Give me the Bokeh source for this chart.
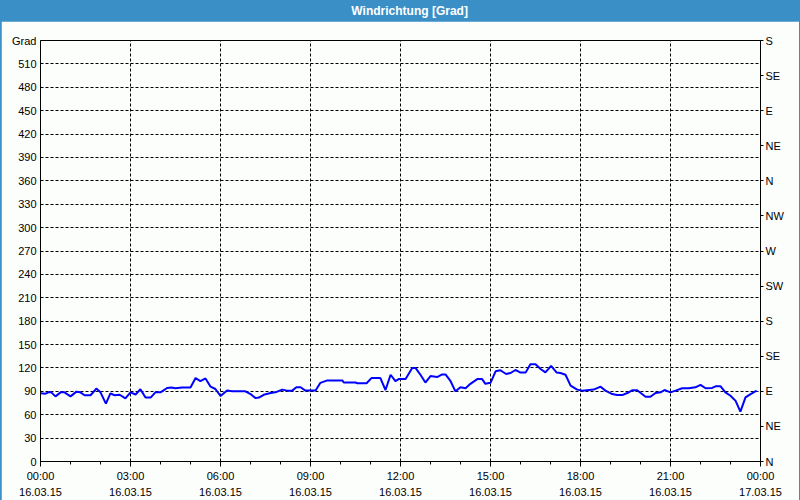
from bokeh.plotting import figure
from bokeh.layouts import column
from bokeh.models import FixedTicker, LinearAxis, Range1d
from bokeh.core.properties import value
from bokeh.embed import file_html
from bokeh.resources import INLINE

# ---- data ----
title_text = "Windrichtung [Grad]"
hours = [0.0, 0.17, 0.28, 0.36, 0.5, 0.67, 0.8, 1.0, 1.2, 1.33,
         1.47, 1.67, 1.86, 2.0, 2.18, 2.33, 2.47, 2.64, 2.83, 3.0,
         3.17, 3.33, 3.5, 3.67, 3.83, 4.0, 4.22, 4.36, 4.5, 4.72,
         5.0, 5.17, 5.33, 5.5, 5.67, 5.83, 6.0, 6.22, 6.39, 6.83,
         7.0, 7.17, 7.28, 7.44, 7.67, 7.83, 8.06, 8.22, 8.39, 8.53,
         8.67, 8.83, 9.17, 9.33, 9.56, 10.06, 10.11, 10.5, 10.56, 10.87,
         11.03, 11.33, 11.5, 11.67, 11.83, 11.94, 12.17, 12.39, 12.5, 12.67,
         12.83, 13.0, 13.22, 13.39, 13.5, 13.67, 13.83, 14.0, 14.17, 14.33,
         14.56, 14.72, 14.83, 15.0, 15.17, 15.33, 15.52, 15.67, 15.83, 16.0,
         16.17, 16.33, 16.5, 16.67, 16.83, 17.02, 17.2, 17.33, 17.5, 17.67,
         17.89, 18.06, 18.44, 18.67, 18.83, 19.06, 19.22, 19.39, 19.56, 19.72,
         19.89, 20.17, 20.33, 20.5, 20.67, 20.8, 21.0, 21.17, 21.39, 21.61,
         21.83, 22.0, 22.17, 22.39, 22.5, 22.67, 22.83, 23.0, 23.17, 23.33,
         23.5, 23.67, 23.87]
direction = [87.4, 87, 89, 88.7, 83.5, 88.7, 88.7, 83.5, 89.6, 88.7,
             85, 85, 93.5, 88.7, 74.3, 87.4, 85, 85.6, 81, 88.7,
             86, 92.6, 82, 82, 88.7, 88.7, 94.3, 95, 94, 95,
             95, 107, 103, 106.5, 96, 93, 84, 91, 90, 90,
             86.5, 81.3, 82, 85.6, 87.8, 88.7, 92.2, 90.9, 90.9, 95.2,
             95.2, 91, 91, 100.9, 104, 104, 101.3, 101.3, 100.4, 100.4,
             107, 107, 91.7, 111.3, 103, 105.7, 105.7, 120, 120, 110.9,
             101.3, 109.6, 108.3, 111.7, 111.7, 103, 90, 95.2, 94, 99.6,
             105.7, 105.7, 99.6, 100.9, 115.7, 117, 112.2, 113.5, 117.4, 114,
             114, 124.8, 124.8, 118.7, 114.3, 122.6, 114.3, 113.5, 111.3, 97.4,
             92.2, 90.9, 92.2, 96, 90.9, 86.5, 85.2, 85.2, 87.8, 91.3,
             91.3, 83, 83, 87.8, 88.7, 91.7, 88.7, 90.9, 93.9, 93.9,
             95.2, 98.3, 93.9, 94.3, 96.5, 96.5, 88.7, 84.3, 77.8, 63.9,
             82.2, 86.5, 90.9]

x_ticks = [0, 3, 6, 9, 12, 15, 18, 21, 24]
x_tick_labels = ["00:00\n16.03.15", "03:00\n16.03.15", "06:00\n16.03.15",
                 "09:00\n16.03.15", "12:00\n16.03.15", "15:00\n16.03.15",
                 "18:00\n16.03.15", "21:00\n16.03.15", "00:00\n17.03.15"]
x_minor = [1, 2, 4, 5, 7, 8, 10, 11, 13, 14, 16, 17, 19, 20, 22, 23]
y_ticks = list(range(0, 541, 30))
y_unit_label = "Grad"
compass_ticks = list(range(0, 541, 45))
compass_labels = ["N", "NE", "E", "SE", "S", "SW", "W", "NW", "N", "NE", "E", "SE", "S"]

BLUE_BAR = "#3b8fc7"
FONT = "Liberation Sans"

# ---- header bar ----
header = figure(width=800, height=21, x_range=(0, 800), y_range=(0, 1),
                output_backend="svg", toolbar_location=None,
                x_axis_type=None, y_axis_type=None,
                min_border=0, outline_line_color=None,
                background_fill_color=BLUE_BAR, border_fill_color=BLUE_BAR)
header.xgrid.visible = False
header.ygrid.visible = False
header.text(x=[409], y=[0.5], text=[title_text], text_color="white",
            text_font=value(FONT),
            text_font_style="bold", text_font_size="12px",
            text_align="center", text_baseline="middle")

# ---- main chart ----
p = figure(width=798, height=479, output_backend="svg", toolbar_location=None,
           x_range=Range1d(0, 24), y_range=Range1d(0, 540),
           min_border_left=39, min_border_right=39, min_border_top=19,
           min_border_bottom=39,
           background_fill_color="#fcfefc", border_fill_color="#fcfefc",
           outline_line_color="black", outline_line_width=1)

p.line(hours, direction, line_color="#0000ff", line_width=2)

xa = p.xaxis[0]
xa.ticker = FixedTicker(ticks=x_ticks, minor_ticks=x_minor)
xa.major_label_overrides = {t: l for t, l in zip(x_ticks, x_tick_labels)}
xa.axis_line_color = "black"
xa.major_tick_in = 0
xa.major_tick_out = 5
xa.minor_tick_in = 0
xa.minor_tick_out = 3
xa.major_tick_line_color = "black"
xa.minor_tick_line_color = "black"
xa.major_label_standoff = 3
xa.major_label_text_font = FONT
xa.major_label_text_font_size = "11px"
xa.major_label_text_color = "black"
xa.major_label_text_line_height = 1.35

ya = p.yaxis[0]
ya.ticker = FixedTicker(ticks=y_ticks)
ya.major_label_overrides = {540: y_unit_label}
ya.axis_line_color = "black"
ya.major_tick_in = 0
ya.major_tick_out = 0
ya.minor_tick_line_color = None
ya.major_label_standoff = 4
ya.major_label_text_font = FONT
ya.major_label_text_font_size = "11px"
ya.major_label_text_color = "black"

ra = LinearAxis(ticker=FixedTicker(ticks=compass_ticks))
ra.major_label_overrides = {t: l for t, l in zip(compass_ticks, compass_labels)}
ra.axis_line_color = "black"
ra.major_tick_in = 0
ra.major_tick_out = 3
ra.minor_tick_line_color = None
ra.major_label_standoff = 2
ra.major_label_text_font = FONT
ra.major_label_text_font_size = "11px"
ra.major_label_text_color = "black"
p.add_layout(ra, "right")

for g in (p.xgrid[0], p.ygrid[0]):
    g.grid_line_color = "black"
    g.grid_line_dash = "3 2"
    g.grid_line_width = 1
    g.grid_line_alpha = 1.0

layout = column(header, p, spacing=0,
                styles={"background-color": BLUE_BAR, "padding": "0px 1px 1px 1px"})

open("out.html", "w").write(file_html(layout, INLINE))
